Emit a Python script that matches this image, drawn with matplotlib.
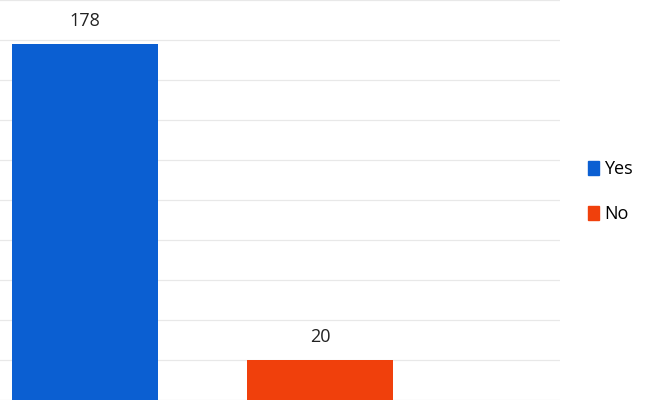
import matplotlib.pyplot as plt

plt.rcParams['font.family'] = ['Open Sans', 'DejaVu Sans']

# data
labels = ['Yes', 'No']
values = [178, 20]
colors = ['#0b5fd2', '#f0400c']

fig = plt.figure(figsize=(6.5, 4.03), dpi=100)
ax = fig.add_axes([0.0, 0.007, 0.862, 0.993])

x = [0, 1]
bars = ax.bar(x, values, width=0.62, color=colors, zorder=3)
for b, v in zip(bars, values):
    ax.text(b.get_x() + b.get_width() / 2, v + 7, str(v), ha='center', va='bottom',
            fontsize=13, color='#222222')

ax.set_xlim(-0.362, 2.02)
ax.set_ylim(0, 200)
ax.set_yticks(range(0, 201, 20))
ax.yaxis.grid(True, color='#e8e8e8', linewidth=0.9, zorder=0)
ax.tick_params(left=False, bottom=False, labelleft=False, labelbottom=False)
for s in ax.spines.values():
    s.set_visible(False)

# legend
handles = [plt.Rectangle((0, 0), 1, 1, color=c) for c in colors]
fig.legend(handles, labels, loc='center left', bbox_to_anchor=(0.905, 0.525),
           frameon=False, fontsize=13, handlelength=0.6, handleheight=0.8,
           handletextpad=0.3, labelspacing=1.5, borderpad=0, borderaxespad=0)

fig.savefig('out.png', dpi=100)
